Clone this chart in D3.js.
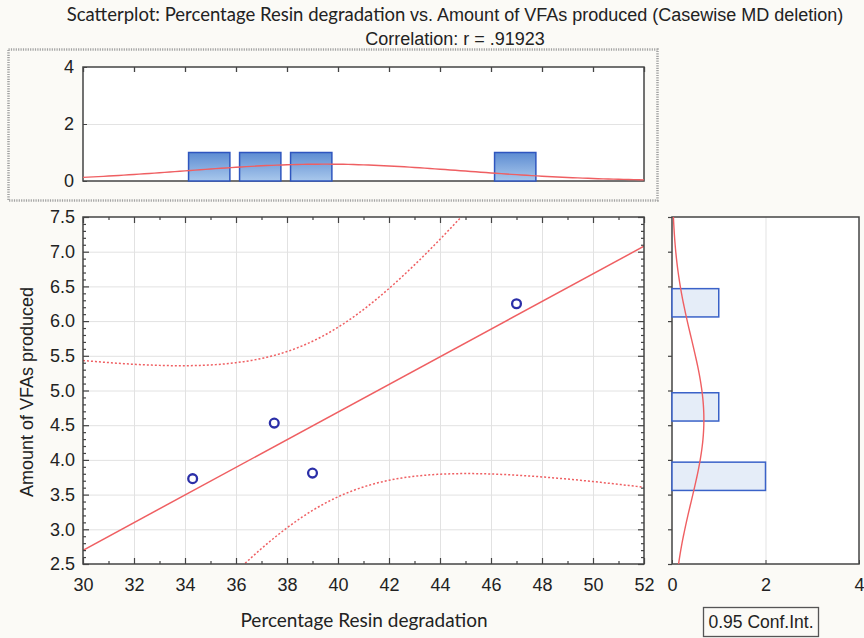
<!DOCTYPE html>
<html><head><meta charset="utf-8">
<script src="https://cdn.jsdelivr.net/npm/d3@7"></script>
<style>
body{margin:0;background:#fbfaf6;}
svg{display:block;}
text{fill:#222;}
</style></head><body>
<svg id="c" width="864" height="638"></svg>
<script>
// ---- data ----
const xValues = [34.3, 37.5, 39.0, 47.0];      // Percentage Resin degradation
const yValues = [3.73, 4.53, 3.81, 6.25];      // Amount of VFAs produced
const xTicks = [30, 32, 34, 36, 38, 40, 42, 44, 46, 48, 50, 52];
const yTicks = [2.5, 3.0, 3.5, 4.0, 4.5, 5.0, 5.5, 6.0, 6.5, 7.0, 7.5];
const countTicks = [0, 2, 4];
const titleA = "Scatterplot: Percentage Resin degradation ";
const titleB = "vs. Amount of VFAs produced (Casewise MD deletion)";
const subtitle = "Correlation: r = .91923";
const xLabel = "Percentage Resin degradation";
const yLabel = "Amount of VFAs produced";
const legendLabel = "0.95 Conf.Int.";
const tCrit = 4.303; // t(0.975, df = n-2 = 2)

// ---- layout ----
const svg = d3.select("#c");
const M = {l: 83, r: 644, t: 217, b: 564};
const TH = {t: 67, b: 181};
const RH = {l: 672, r: 859};
const ARIAL = "Liberation Sans, Arial, sans-serif";
const CALIB = "Lato, sans-serif";
const RED = "#ef5f62", BLUE = "#2f56bf", PT = "#2b2fa8";

const x = d3.scaleLinear().domain([30, 52]).range([M.l, M.r]);
const y = d3.scaleLinear().domain([2.5, 7.5]).range([M.b, M.t]);
const hy = d3.scaleLinear().domain([0, 4]).range([TH.b, TH.t]);
const hx = d3.scaleLinear().domain([0, 4]).range([RH.l, RH.r]);

// ---- statistics derived from the data ----
const n = xValues.length;
const mx = d3.mean(xValues), my = d3.mean(yValues);
const sxx = d3.sum(xValues, v => (v - mx) ** 2);
const syy = d3.sum(yValues, v => (v - my) ** 2);
const sxy = d3.sum(xValues, (v, i) => (v - mx) * (yValues[i] - my));
const slope = sxy / sxx, icpt = my - slope * mx;
const se = Math.sqrt((syy - sxy * sxy / sxx) / (n - 2));
const sdx = Math.sqrt(sxx / (n - 1)), sdy = Math.sqrt(syy / (n - 1));
const npdf = (v, m, sd) => Math.exp(-0.5 * ((v - m) / sd) ** 2) / (sd * Math.sqrt(2 * Math.PI));

const binsX = d3.bin().domain(x.domain()).thresholds(d3.range(32, 52, 2))(xValues);
const binsY = d3.bin().domain(y.domain()).thresholds(d3.range(3, 7.5, 0.5))(yValues);
const bwX = 2, bwY = 0.5;

// ---- defs ----
const defs = svg.append("defs");
const g = defs.append("linearGradient").attr("id", "barg").attr("x1", 0).attr("y1", 0).attr("x2", 0).attr("y2", 1);
g.append("stop").attr("offset", "0%").attr("stop-color", "#5d8cd2");
g.append("stop").attr("offset", "100%").attr("stop-color", "#a9c8ec");
defs.append("clipPath").attr("id", "clipM").append("rect")
  .attr("x", M.l).attr("y", M.t).attr("width", M.r - M.l).attr("height", M.b - M.t);
defs.append("clipPath").attr("id", "clipT").append("rect")
  .attr("x", M.l - 2).attr("y", TH.t).attr("width", M.r - M.l + 4).attr("height", TH.b - TH.t + 2);
defs.append("clipPath").attr("id", "clipR").append("rect")
  .attr("x", RH.l - 2).attr("y", M.t).attr("width", RH.r - RH.l + 2).attr("height", M.b - M.t);

// ---- title ----
const t1 = svg.append("text").attr("x", 455).attr("y", 21).attr("text-anchor", "middle").attr("font-size", 18);
t1.append("tspan").attr("font-family", CALIB).attr("font-size", 18.5).text(titleA);
t1.append("tspan").attr("font-family", ARIAL).text(titleB);
svg.append("text").attr("x", 455).attr("y", 45).attr("text-anchor", "middle")
  .attr("font-family", ARIAL).attr("font-size", 18).text(subtitle);

// ---- top histogram ----
svg.append("rect").attr("x", 8.5).attr("y", 49.5).attr("width", 649).attr("height", 151)
  .attr("fill", "none").attr("stroke", "#a3a3a3").attr("stroke-width", 2.5).attr("stroke-dasharray", "1.2,1.2");
svg.append("rect").attr("x", M.l).attr("y", TH.t).attr("width", M.r - M.l).attr("height", TH.b - TH.t).attr("fill", "#fff");
svg.append("g").attr("transform", `translate(${M.l},0)`)
  .call(d3.axisLeft(hy).tickValues([2]).tickSize(-(M.r - M.l)).tickFormat(""))
  .call(s => { s.select(".domain").remove(); s.selectAll("line").attr("stroke", "#e3e3e3"); });
svg.append("rect").attr("x", M.l).attr("y", TH.t).attr("width", M.r - M.l).attr("height", TH.b - TH.t)
  .attr("fill", "none").attr("stroke", "#444").attr("stroke-width", 1.5);
svg.append("g").attr("clip-path", "url(#clipT)").selectAll("rect").data(binsX).join("rect")
  .attr("x", d => x(d.x0) + 0.07 * (x(d.x1) - x(d.x0)))
  .attr("width", d => 0.81 * (x(d.x1) - x(d.x0)))
  .attr("y", d => hy(d.length))
  .attr("height", d => hy(0) - hy(d.length))
  .attr("fill", "url(#barg)").attr("stroke", BLUE).attr("stroke-width", 1.5);
svg.append("path").attr("clip-path", "url(#clipT)")
  .datum(d3.range(30, 52.001, 0.2))
  .attr("d", d3.line().x(v => x(v)).y(v => hy(n * bwX * npdf(v, mx, sdx))))
  .attr("fill", "none").attr("stroke", RED).attr("stroke-width", 1.4);
svg.append("g").attr("transform", `translate(0,${TH.t})`)
  .call(d3.axisTop(x).tickValues(xTicks).tickSize(-5).tickFormat(""))
  .call(s => { s.select(".domain").remove(); s.selectAll("line").attr("stroke", "#444").attr("stroke-width", 1.3); });
const tl = svg.append("g").attr("transform", `translate(${M.l},0)`)
  .call(d3.axisLeft(hy).tickValues(countTicks).tickSize(-4).tickPadding(9).tickFormat(d3.format("d")));
tl.select(".domain").remove();
tl.selectAll("line").attr("stroke", "#444");
tl.selectAll("text").attr("font-family", ARIAL).attr("font-size", 18).attr("fill", "#222");

// ---- main scatter ----
svg.append("rect").attr("x", M.l).attr("y", M.t).attr("width", M.r - M.l).attr("height", M.b - M.t).attr("fill", "#fff");
svg.append("g").attr("transform", `translate(0,${M.b})`)
  .call(d3.axisBottom(x).tickValues(xTicks.slice(1, -1)).tickSize(-(M.b - M.t)).tickFormat(""))
  .call(s => { s.select(".domain").remove(); s.selectAll("line").attr("stroke", "#e2e2e2"); });
svg.append("g").attr("transform", `translate(${M.l},0)`)
  .call(d3.axisLeft(y).tickValues(yTicks.slice(1, -1)).tickSize(-(M.r - M.l)).tickFormat(""))
  .call(s => { s.select(".domain").remove(); s.selectAll("line").attr("stroke", "#e2e2e2"); });

const band = d3.range(30, 52.001, 0.1);
const hw = v => tCrit * se * Math.sqrt(1 / n + (v - mx) ** 2 / sxx);
const plotG = svg.append("g").attr("clip-path", "url(#clipM)");
[1, -1].forEach(sg => {
  plotG.append("path").datum(band)
    .attr("d", d3.line().x(v => x(v)).y(v => y(icpt + slope * v + sg * hw(v))))
    .attr("fill", "none").attr("stroke", RED).attr("stroke-width", 1.5).attr("stroke-dasharray", "2,2");
});
plotG.append("path").datum(x.domain())
  .attr("d", d3.line().x(v => x(v)).y(v => y(icpt + slope * v)))
  .attr("fill", "none").attr("stroke", RED).attr("stroke-width", 1.5);
plotG.selectAll("circle").data(xValues.map((v, i) => [v, yValues[i]])).join("circle")
  .attr("cx", d => x(d[0])).attr("cy", d => y(d[1])).attr("r", 4.4)
  .attr("fill", "#fff").attr("stroke", PT).attr("stroke-width", 2.3);

svg.append("rect").attr("x", M.l).attr("y", M.t).attr("width", M.r - M.l).attr("height", M.b - M.t)
  .attr("fill", "none").attr("stroke", "#444").attr("stroke-width", 1.5);

function tickOnly(axis, tx, ty, vals, len) {
  svg.append("g").attr("transform", `translate(${tx},${ty})`)
    .call(axis.tickValues(vals).tickSize(-len).tickFormat(""))
    .call(s => { s.select(".domain").remove(); s.selectAll("line").attr("stroke", "#444").attr("stroke-width", 1.2); });
}
const minorX = d3.range(31, 52, 2);
const minorY = d3.range(25, 76).map(v => v / 10).filter(v => Math.round(v * 10) % 5 !== 0);
tickOnly(d3.axisTop(x), 0, M.t, xTicks, 6);
tickOnly(d3.axisTop(x), 0, M.t, minorX, 3);
tickOnly(d3.axisBottom(x), 0, M.b, minorX, 3);
tickOnly(d3.axisLeft(y), M.l, 0, minorY, 3);
tickOnly(d3.axisRight(y), M.r, 0, minorY, 3);
tickOnly(d3.axisRight(y), M.r, 0, yTicks, 6);

const bx = svg.append("g").attr("transform", `translate(0,${M.b})`)
  .call(d3.axisBottom(x).tickValues(xTicks).tickSize(-6).tickPadding(14).tickFormat(d3.format("d")));
bx.select(".domain").remove();
bx.selectAll("line").attr("stroke", "#444").attr("stroke-width", 1.2);
bx.selectAll("text").attr("font-family", ARIAL).attr("font-size", 18).attr("fill", "#222");

const ly = svg.append("g").attr("transform", `translate(${M.l},0)`)
  .call(d3.axisLeft(y).tickValues(yTicks).tickSize(-6).tickPadding(8).tickFormat(d3.format(".1f")));
ly.select(".domain").remove();
ly.selectAll("line").attr("stroke", "#444").attr("stroke-width", 1.2);
ly.selectAll("text").attr("font-family", ARIAL).attr("font-size", 18).attr("fill", "#222");

// ---- right histogram ----
svg.append("rect").attr("x", RH.l).attr("y", M.t).attr("width", RH.r - RH.l).attr("height", M.b - M.t).attr("fill", "#fff");
svg.append("g").attr("transform", `translate(0,${M.b})`)
  .call(d3.axisBottom(hx).tickValues([2]).tickSize(-(M.b - M.t)).tickFormat(""))
  .call(s => { s.select(".domain").remove(); s.selectAll("line").attr("stroke", "#e3e3e3"); });
svg.append("rect").attr("x", RH.l).attr("y", M.t).attr("width", RH.r - RH.l).attr("height", M.b - M.t)
  .attr("fill", "none").attr("stroke", "#444").attr("stroke-width", 1.5);
tickOnly(d3.axisRight(y), RH.l, 0, yTicks, 4);
svg.append("g").attr("clip-path", "url(#clipR)").selectAll("rect").data(binsY).join("rect")
  .attr("x", hx(0))
  .attr("width", d => hx(d.length) - hx(0))
  .attr("y", d => y(d.x1) + 0.065 * (y(d.x0) - y(d.x1)))
  .attr("height", d => 0.815 * (y(d.x0) - y(d.x1)))
  .attr("fill", "#e5edf8").attr("stroke", "#3a62c8").attr("stroke-width", 1.5);
svg.append("path").attr("clip-path", "url(#clipR)")
  .datum(d3.range(2.5, 7.501, 0.05))
  .attr("d", d3.line().x(v => hx(n * bwY * npdf(v, my, sdy))).y(v => y(v)))
  .attr("fill", "none").attr("stroke", RED).attr("stroke-width", 1.4);
const rb = svg.append("g").attr("transform", `translate(0,${M.b})`)
  .call(d3.axisBottom(hx).tickValues(countTicks).tickSize(-4).tickPadding(14).tickFormat(d3.format("d")));
rb.select(".domain").remove();
rb.selectAll("line").attr("stroke", "#444");
rb.selectAll("text").attr("font-family", ARIAL).attr("font-size", 18).attr("fill", "#222");

// ---- axis titles ----
svg.append("text").attr("x", 364).attr("y", 627).attr("text-anchor", "middle")
  .attr("font-family", CALIB).attr("font-size", 19).text(xLabel);
svg.append("text").attr("transform", "translate(33,392) rotate(-90)").attr("text-anchor", "middle")
  .attr("font-family", ARIAL).attr("font-size", 18).text(yLabel);

// ---- legend box ----
svg.append("rect").attr("x", 703.5).attr("y", 607.5).attr("width", 115).attr("height", 29)
  .attr("fill", "#fbfaf6").attr("stroke", "#555").attr("stroke-width", 1.3);
svg.append("text").attr("x", 761).attr("y", 628).attr("text-anchor", "middle")
  .attr("font-family", ARIAL).attr("font-size", 17.5).text(legendLabel);
</script>
</body></html>
